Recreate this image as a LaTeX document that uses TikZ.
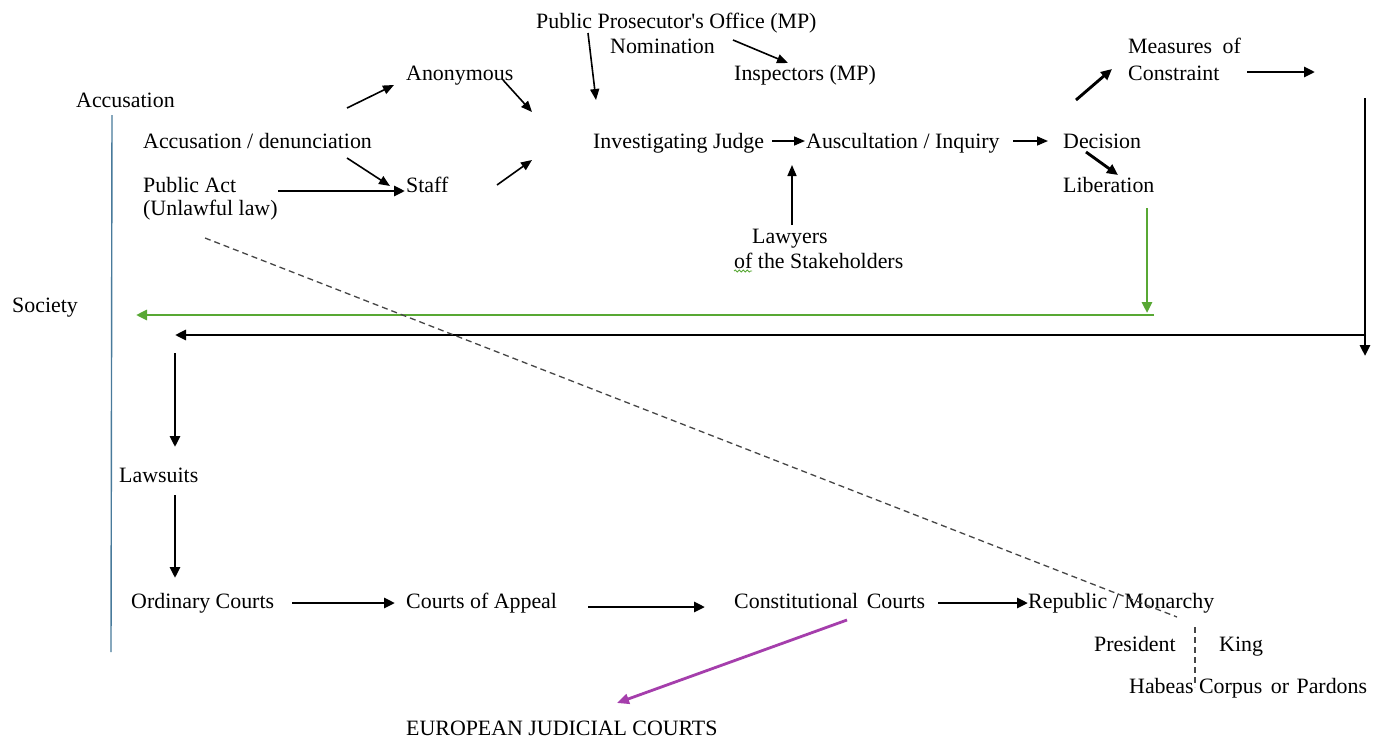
\documentclass[tikz,border=0pt]{standalone}
\usepackage{fontspec}
\setmainfont{Liberation Serif}
\usetikzlibrary{arrows.meta,decorations.pathmorphing}
\definecolor{sideline}{RGB}{72,122,155}
\definecolor{freeg}{RGB}{88,168,52}
\definecolor{eupurple}{RGB}{165,62,172}
\definecolor{dashgray}{RGB}{70,70,70}
\begin{document}
\begin{tikzpicture}[x=1pt,y=-1pt,
  lbl/.style={inner sep=0pt, anchor=base west, font=\fontsize{21.9}{24}\selectfont},
  arr/.style={line width=1.6pt, -{Triangle[length=11pt,width=9pt]}},
  arrb/.style={line width=2.9pt, -{Triangle[length=11pt,width=10pt]}},
  garr/.style={freeg, line width=2.9pt, -{Triangle[length=11pt,width=10pt]}},
  parr/.style={eupurple, line width=2.8pt, -{Triangle[length=12pt,width=10pt]}},
  dline/.style={dashgray, line width=1.3pt, dash pattern=on 6pt off 4pt}]

\fill[white] (0,0) rectangle (1379,742);
\useasboundingbox (0,0) rectangle (1379,742);

% ---- labels ----
\node[lbl] (acct)  at (76,107)   {Accusation};
\node[lbl] (accd)  at (143,148)  {Accusation / denunciation};
\node[lbl] (pa)    at (143,192)  {Public Act};
\node[lbl] (ul)    at (143,215)  {(Unlawful law)};
\node[lbl] (anon)  at (406,80)   {Anonymous};
\node[lbl] (staff) at (406,192)  {Staff};
\node[lbl] (ppo)   at (536,28)   {Public Prosecutor\textquotesingle s Office (MP)};
\node[lbl] (nom)   at (610,53)   {Nomination};
\node[lbl] (insp)  at (734,80)   {Inspectors (MP)};
\node[lbl] (ij)    at (593,148)  {Investigating Judge};
\node[lbl] (aus)   at (806,148)  {Auscultation / Inquiry};
\node[lbl] (dec)   at (1063,148) {Decision};
\node[lbl] (lib)   at (1063,192) {Liberation};
\node[lbl] (meas)  at (1128,53)  {Measures\hspace{5pt} of};
\node[lbl] (con)   at (1128,80)  {Constraint};
\node[lbl] (law1)  at (752,243)  {Lawyers};
\node[lbl] (law2)  at (734,268)  {of the Stakeholders};
\node[lbl] (soc)   at (12,312)   {Society};
\node[lbl] (suits) at (119,482)  {Lawsuits};
\node[lbl] (ord)   at (131,608)  {Ordinary Courts};
\node[lbl] (app)   at (406,608)  {Courts of Appeal};
\node[lbl] (cons)  at (734,608)  {Constitutional\hspace{3pt} Courts};
\node[lbl] (rep)   at (1028,608) {Republic / Monarchy};
\node[lbl] (pres)  at (1094,651) {President};
\node[lbl] (king)  at (1219,651) {King};
\node[lbl] (hab)   at (1129,693) {Habeas Corpus\hspace{3pt} or\hspace{2pt} Pardons};
\node[lbl] (eu)    at (406,735)  {EUROPEAN JUDICIAL COURTS};

% free ends of the long return lines
\coordinate (ctr)  at (1315,72);
\coordinate (rtop) at (1365,98);
\coordinate (rbot) at (1365,356);
\coordinate (rmid) at (1366,335);
\coordinate (lmid) at (175,335);
\coordinate (gtop) at (1154,315);
\coordinate (gend) at (136,315);
\coordinate (ltop) at (175,353);

% side rule
\draw[sideline, line width=1.4pt] ([shift={(36,8)}]acct.base west) -- ([shift={(-20,44)}]ord.base west);

% ---- accusation branch ----
\draw[arr] ([shift={(204,-40)}]accd.base west) -- ([shift={(-12,5)}]anon.base west);
\draw[arr] ([shift={(204,10)}]accd.base west) -- ([shift={(-16,-6)}]staff.base west);
\draw[arrb] ([shift={(135,-1)}]pa.base west) -- ([shift={(-1,-1)}]staff.base west);
\draw[arr] ([shift={(97,0)}]anon.base west) -- ([shift={(-61,-36)}]ij.base west);
\draw[arr] ([shift={(91,-7)}]staff.base west) -- ([shift={(-61,12)}]ij.base west);
\draw[arr] ([shift={(52,5)}]ppo.base west) -- ([shift={(3,-48)}]ij.base west);
\draw[arr] ([shift={(123,-13)}]nom.base west) -- ([shift={(54,-17)}]insp.base west);

% ---- inquiry line ----
\draw[arr] ([shift={(179,-7)}]ij.base west) -- ([shift={(-1,-7)}]aus.base west);
\draw[arr] ([shift={(40,-18)}]law1.base west) -- ([shift={(-14,17)}]aus.base west);
\draw[arr] ([shift={(207,-7)}]aus.base west) -- ([shift={(-15,-7)}]dec.base west);
\draw[arrb] ([shift={(13,-48)}]dec.base west) -- ([shift={(-16,-11)}]con.base west);
\draw[arrb] ([shift={(119,-8)}]con.base west) -- (ctr);
\draw[arrb] ([shift={(23,4)}]dec.base west) -- ([shift={(55,-17)}]lib.base west);

% spell-check squiggle under "of"
\draw[freeg, line width=0.8pt, decorate, decoration={snake, amplitude=1pt, segment length=4pt}]
  ([shift={(0,3)}]law2.base west) -- ([shift={(18,3)}]law2.base west);

% ---- return lines ----
\draw[garr] ([shift={(84,16)}]lib.base west) -- ([shift={(84,121)}]lib.base west);
\draw[garr] (gtop) -- (gend);
\draw[arrb] (rtop) -- (rbot);
\draw[arrb] (rmid) -- (lmid);
\draw[arrb] (ltop) -- ([shift={(56,-35)}]suits.base west);

% ---- courts ----
\draw[arrb] ([shift={(56,13)}]suits.base west) -- ([shift={(44,-30)}]ord.base west);
\draw[arrb] ([shift={(161,-5)}]ord.base west) -- ([shift={(-11,-5)}]app.base west);
\draw[arrb] ([shift={(182,-1)}]app.base west) -- ([shift={(-29,-1)}]cons.base west);
\draw[arrb] ([shift={(204,-5)}]cons.base west) -- ([shift={(0,-5)}]rep.base west);
\draw[parr] ([shift={(113,12)}]cons.base west) -- ([shift={(211,-32)}]eu.base west);

% dashed links
\draw[dline] ([shift={(62,23)}]ul.base west) -- ([shift={(149,9)}]rep.base west);
\draw[dline] ([shift={(167,19)}]rep.base west) -- ([shift={(66,-6)}]hab.base west);

\end{tikzpicture}
\end{document}
